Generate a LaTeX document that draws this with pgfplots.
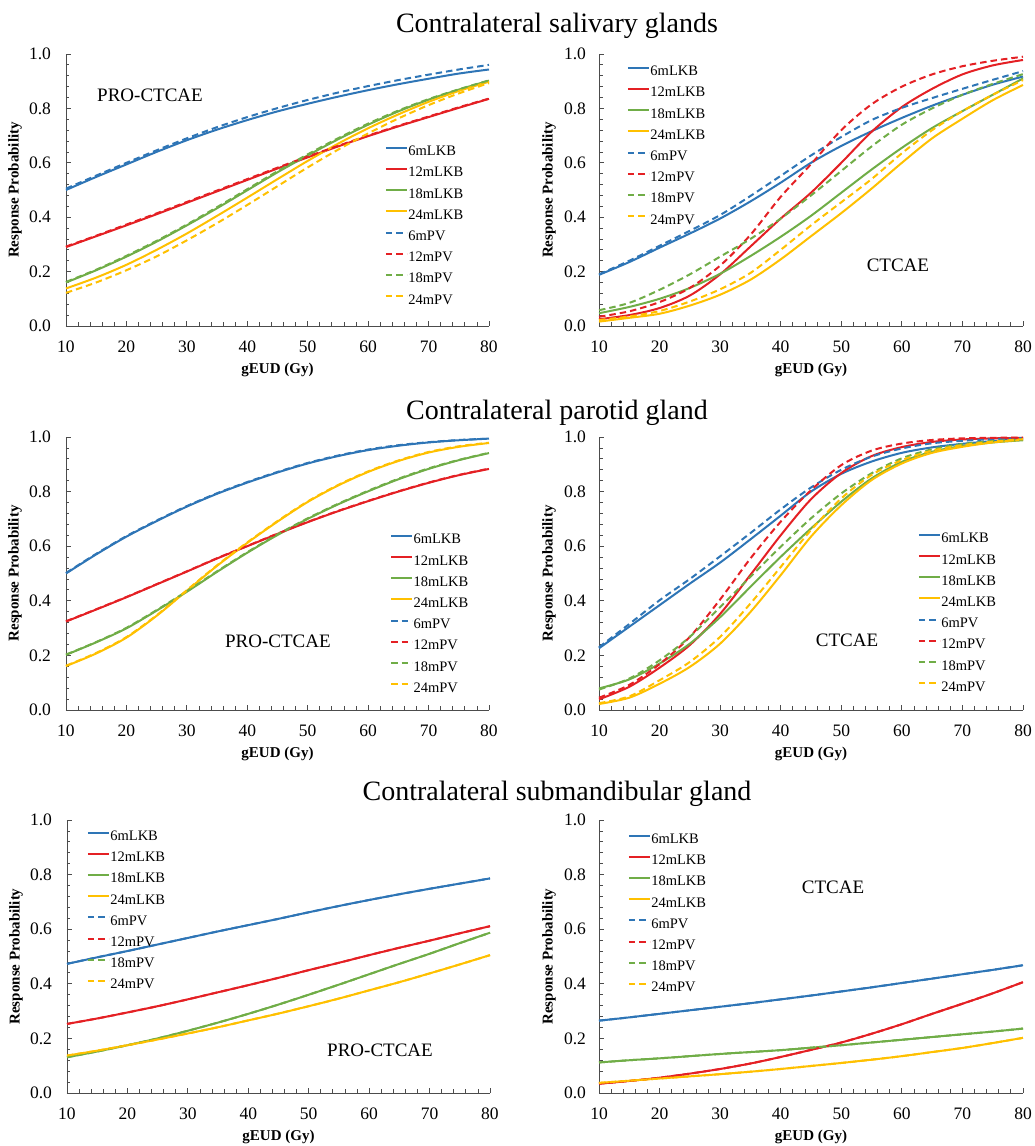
\documentclass[border=0pt]{standalone}
\usepackage{pgfplots}
\pgfplotsset{compat=1.18}
\usepackage{pgfplotstable}
\usepackage{fontspec}
\setmainfont{Liberation Serif}

\definecolor{cB}{RGB}{46,117,182}
\definecolor{cR}{RGB}{228,32,36}
\definecolor{cG}{RGB}{112,173,71}
\definecolor{cY}{RGB}{255,192,0}

% Salivary, PRO-CTCAE
\pgfplotstableread{
x  b     r     g     y     bd    rd    gd    yd
10 0.500 0.290 0.160 0.138 0.505 0.292 0.162 0.122
15 0.548 0.330 0.205 0.178 0.553 0.332 0.207 0.160
20 0.594 0.370 0.255 0.225 0.600 0.373 0.258 0.205
25 0.640 0.411 0.310 0.280 0.646 0.414 0.313 0.256
30 0.683 0.453 0.370 0.340 0.690 0.456 0.373 0.315
35 0.722 0.495 0.433 0.405 0.731 0.498 0.437 0.378
40 0.757 0.537 0.499 0.472 0.768 0.540 0.503 0.445
45 0.789 0.579 0.565 0.540 0.801 0.582 0.569 0.514
50 0.817 0.620 0.627 0.607 0.831 0.623 0.631 0.583
55 0.843 0.660 0.686 0.670 0.858 0.662 0.690 0.648
60 0.867 0.698 0.740 0.727 0.882 0.700 0.744 0.708
65 0.889 0.734 0.789 0.778 0.904 0.736 0.792 0.763
70 0.909 0.768 0.832 0.824 0.924 0.770 0.834 0.812
75 0.928 0.802 0.869 0.864 0.943 0.804 0.870 0.855
80 0.943 0.835 0.902 0.898 0.960 0.836 0.903 0.893
}\tA
% Salivary, CTCAE
\pgfplotstableread{
x  b     r     g     y     bd    rd    gd    yd
10 0.188 0.025 0.047 0.016 0.190 0.034 0.058 0.022
15 0.235 0.040 0.070 0.030 0.240 0.054 0.085 0.035
20 0.288 0.066 0.100 0.045 0.295 0.088 0.133 0.055
25 0.340 0.112 0.140 0.075 0.350 0.140 0.190 0.090
30 0.395 0.190 0.192 0.115 0.408 0.222 0.255 0.135
35 0.458 0.292 0.257 0.170 0.478 0.335 0.320 0.195
40 0.527 0.395 0.328 0.245 0.552 0.475 0.395 0.280
45 0.600 0.490 0.405 0.330 0.627 0.595 0.480 0.370
50 0.662 0.600 0.490 0.415 0.695 0.720 0.570 0.455
55 0.716 0.714 0.575 0.505 0.757 0.815 0.660 0.540
60 0.765 0.805 0.655 0.600 0.802 0.880 0.740 0.635
65 0.810 0.872 0.728 0.690 0.838 0.925 0.800 0.720
70 0.850 0.925 0.790 0.762 0.872 0.955 0.850 0.790
75 0.887 0.958 0.850 0.830 0.905 0.975 0.890 0.850
80 0.917 0.978 0.910 0.886 0.937 0.990 0.926 0.904
}\tB
% Parotid, PRO-CTCAE
\pgfplotstableread{
x  b     r     g     y     bd    rd    gd    yd
10 0.500 0.324 0.202 0.161 0.502 0.325 0.203 0.162
15 0.570 0.368 0.248 0.207 0.572 0.369 0.249 0.209
20 0.635 0.413 0.299 0.265 0.637 0.414 0.301 0.267
25 0.692 0.460 0.364 0.345 0.694 0.461 0.366 0.347
30 0.745 0.507 0.433 0.437 0.747 0.508 0.435 0.439
35 0.792 0.555 0.506 0.528 0.794 0.556 0.508 0.530
40 0.833 0.600 0.576 0.612 0.835 0.601 0.578 0.614
45 0.870 0.645 0.641 0.690 0.872 0.646 0.643 0.692
50 0.903 0.688 0.700 0.762 0.905 0.689 0.702 0.764
55 0.930 0.728 0.753 0.822 0.932 0.729 0.755 0.824
60 0.952 0.765 0.801 0.872 0.954 0.766 0.803 0.874
65 0.968 0.800 0.845 0.912 0.970 0.801 0.847 0.914
70 0.980 0.832 0.883 0.943 0.981 0.833 0.885 0.945
75 0.988 0.860 0.915 0.964 0.989 0.861 0.916 0.966
80 0.994 0.883 0.941 0.978 0.994 0.884 0.942 0.979
}\tC
% Parotid, CTCAE
\pgfplotstableread{
x  b     r     g     y     bd    rd    gd    yd
10 0.226 0.039 0.079 0.022 0.230 0.045 0.075 0.025
15 0.305 0.085 0.112 0.045 0.315 0.092 0.115 0.050
20 0.384 0.155 0.170 0.096 0.402 0.168 0.182 0.109
25 0.463 0.238 0.243 0.158 0.480 0.268 0.268 0.176
30 0.540 0.352 0.340 0.243 0.563 0.405 0.377 0.268
35 0.625 0.495 0.451 0.359 0.648 0.555 0.488 0.390
40 0.712 0.640 0.561 0.494 0.735 0.690 0.598 0.524
45 0.800 0.772 0.665 0.635 0.815 0.805 0.702 0.659
50 0.865 0.868 0.763 0.750 0.880 0.897 0.793 0.775
55 0.910 0.930 0.848 0.842 0.928 0.950 0.867 0.861
60 0.942 0.963 0.909 0.903 0.958 0.976 0.922 0.915
65 0.962 0.982 0.946 0.942 0.977 0.989 0.955 0.950
70 0.975 0.991 0.967 0.964 0.986 0.995 0.974 0.970
75 0.985 0.995 0.980 0.980 0.992 0.997 0.985 0.983
80 0.992 0.997 0.988 0.990 0.996 0.998 0.990 0.992
}\tD
% Submandibular, PRO-CTCAE
\pgfplotstableread{
x  b     r     g     y
10 0.473 0.253 0.131 0.137
15 0.497 0.273 0.152 0.155
20 0.520 0.295 0.175 0.175
25 0.544 0.318 0.200 0.196
30 0.568 0.343 0.228 0.218
35 0.592 0.369 0.258 0.241
40 0.615 0.395 0.290 0.266
45 0.638 0.422 0.324 0.291
50 0.662 0.450 0.360 0.318
55 0.685 0.477 0.397 0.346
60 0.707 0.505 0.435 0.376
65 0.728 0.532 0.473 0.406
70 0.748 0.558 0.510 0.438
75 0.767 0.585 0.549 0.471
80 0.786 0.611 0.587 0.505
}\tE
% Submandibular, CTCAE
\pgfplotstableread{
x  b     r     g     y
10 0.265 0.034 0.112 0.037
15 0.277 0.044 0.120 0.045
20 0.290 0.056 0.127 0.053
25 0.303 0.071 0.135 0.061
30 0.316 0.088 0.143 0.069
35 0.329 0.108 0.150 0.078
40 0.343 0.132 0.157 0.088
45 0.357 0.158 0.166 0.099
50 0.372 0.185 0.175 0.110
55 0.387 0.217 0.185 0.122
60 0.403 0.252 0.195 0.135
65 0.419 0.290 0.205 0.150
70 0.435 0.327 0.215 0.165
75 0.451 0.365 0.225 0.183
80 0.468 0.406 0.236 0.202
}\tF

\pgfplotsset{
  lkb/.style={line width=2pt, smooth},
  pv/.style={line width=2pt, smooth, dash pattern=on 6.5pt off 4pt},
  panel/.style={
    scale only axis, width=423pt, height=272pt,
    xmin=10, xmax=80, ymin=0, ymax=1, clip=false,
    axis x line=bottom, axis y line=left,
    axis line style={-, draw=black!70, line width=0.9pt},
    tick align=inside, major tick length=5pt, minor tick length=3.5pt,
    tick style={black!70, line width=0.8pt},
    xtick={10,20,30,40,50,60,70,80}, minor x tick num=4,
    ytick={0,0.2,0.4,0.6,0.8,1}, minor y tick num=4,
    /pgf/number format/assume math mode=true,
    y tick label style={/pgf/number format/fixed, /pgf/number format/fixed zerofill, /pgf/number format/precision=1},
    ticklabel style={font=\fontsize{17.5}{19}\selectfont},
    xticklabel style={anchor=center, yshift=-21pt},
    yticklabel style={anchor=center, xshift=-26pt},
    xlabel={gEUD (Gy)}, ylabel={Response Probability},
    x label style={at={(axis description cs:0.5,-0.1618)}, anchor=center, font=\bfseries\fontsize{15}{16}\selectfont},
    y label style={at={(axis description cs:-0.1206,0.5)}, anchor=center, font=\bfseries\fontsize{15}{16}\selectfont},
    legend cell align=left,
    legend style={draw=none, fill=none, inner sep=0pt, outer sep=0pt,
      font=\fontsize{14.5}{16}\selectfont, row sep=8.2pt, column sep=0.5pt,
      nodes={inner sep=0pt, text height=10pt, text depth=3pt}, anchor=north west},
    legend image code/.code={\path (0pt,0pt); \draw[##1] (0pt,4.5pt) -- (21pt,4.5pt);},
    legend entries={6mLKB,12mLKB,18mLKB,24mLKB,6mPV,12mPV,18mPV,24mPV},
  },
  right/.style={
    width=424pt,
    yticklabel style={/tikz/xshift=2pt},
    y label style={at={(axis description cs:-0.118,0.5)}},
  },
}

\newcommand{\curves}[1]{%
  \addplot[cB, lkb] table[x=x,y=b]{#1};
  \addplot[cR, lkb] table[x=x,y=r]{#1};
  \addplot[cG, lkb] table[x=x,y=g]{#1};
  \addplot[cY, lkb] table[x=x,y=y]{#1};
  \addplot[cB, pv] table[x=x,y=bd]{#1};
  \addplot[cR, pv] table[x=x,y=rd]{#1};
  \addplot[cG, pv] table[x=x,y=gd]{#1};
  \addplot[cY, pv] table[x=x,y=yd]{#1};
}
\newcommand{\curvessame}[1]{%
  \addplot[cB, lkb] table[x=x,y=b]{#1};
  \addplot[cR, lkb] table[x=x,y=r]{#1};
  \addplot[cG, lkb] table[x=x,y=g]{#1};
  \addplot[cY, lkb] table[x=x,y=y]{#1};
  \addplot[cB, pv] table[x=x,y=b]{#1};
  \addplot[cR, pv] table[x=x,y=r]{#1};
  \addplot[cG, pv] table[x=x,y=g]{#1};
  \addplot[cY, pv] table[x=x,y=y]{#1};
}

\begin{document}
\begin{tikzpicture}[x=1pt,y=1pt]
\path[use as bounding box] (0,0) rectangle (1034,1146);

\node[font=\fontsize{28}{30}\selectfont, anchor=base] at (557,1113) {Contralateral salivary glands};
\node[font=\fontsize{28}{30}\selectfont, anchor=base] at (557,726) {Contralateral parotid gland};
\node[font=\fontsize{28}{30}\selectfont, anchor=base] at (557,345) {Contralateral submandibular gland};

% Row 1
\begin{axis}[panel, at={(66pt,820pt)}, anchor=south west,
  legend style={at={(axis description cs:0.754,0.6625)}}]
\curves{\tA}
\node[font=\fontsize{19}{20}\selectfont] at (axis description cs:0.1986,0.849) {PRO-CTCAE};
\end{axis}
\begin{axis}[panel, right, at={(599pt,820pt)}, anchor=south west,
  legend style={at={(axis description cs:0.066,0.9566)}}]
\curves{\tB}
\node[font=\fontsize{19}{20}\selectfont] at (axis description cs:0.705,0.224) {CTCAE};
\end{axis}

% Row 2
\begin{axis}[panel, height=273pt, at={(66pt,436pt)}, anchor=south west,
  legend style={at={(axis description cs:0.766,0.6454)}}]
\curves{\tC}
\node[font=\fontsize{19}{20}\selectfont] at (axis description cs:0.501,0.253) {PRO-CTCAE};
\end{axis}
\begin{axis}[panel, right, height=273pt, at={(599pt,436pt)}, anchor=south west,
  legend style={at={(axis description cs:0.752,0.649)}}]
\curves{\tD}
\node[font=\fontsize{19}{20}\selectfont] at (axis description cs:0.585,0.256) {CTCAE};
\end{axis}

% Row 3
\begin{axis}[panel, height=273pt, at={(67pt,53pt)}, anchor=south west,
  legend style={at={(axis description cs:0.047,0.9615)}}]
\curvessame{\tE}
\node[font=\fontsize{19}{20}\selectfont] at (axis description cs:0.74,0.158) {PRO-CTCAE};
\end{axis}
\begin{axis}[panel, right, height=273pt, at={(599pt,53pt)}, anchor=south west,
  legend style={at={(axis description cs:0.068,0.9505)}}]
\curvessame{\tF}
\node[font=\fontsize{19}{20}\selectfont] at (axis description cs:0.552,0.752) {CTCAE};
\end{axis}
\end{tikzpicture}
\end{document}
